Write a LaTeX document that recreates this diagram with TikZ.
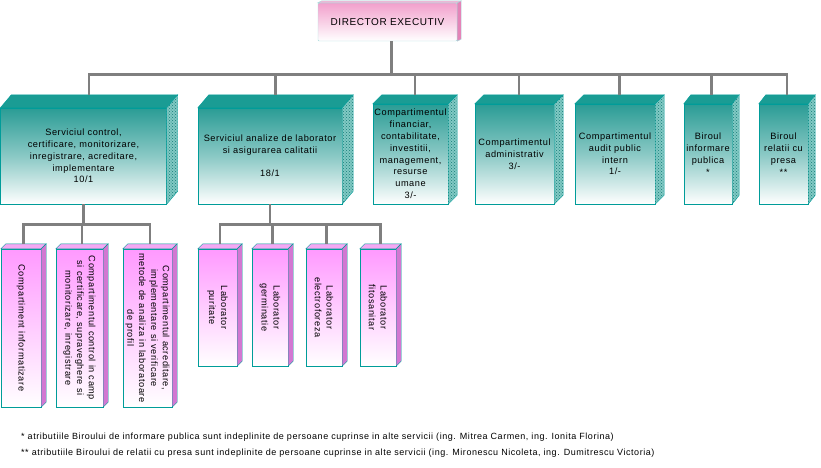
\documentclass[tikz,border=0pt]{standalone}
\usepackage{fontspec}
\setmainfont{Liberation Sans}[LetterSpace=6]
\usepackage{tikz}
\usetikzlibrary{calc, patterns}
\usepackage{xcolor}

\definecolor{tealtop}{HTML}{1A9C94}
\definecolor{tealedge}{HTML}{009C99}
\definecolor{tealfront}{HTML}{2A9C95}
\definecolor{pinkfront}{HTML}{FF99FF}
\definecolor{pinktop}{HTML}{F4A8F4}
\definecolor{pinkside}{HTML}{D277D2}
\definecolor{dirpink}{HTML}{F2A0CC}
\definecolor{dirside}{HTML}{E484B8}
\definecolor{diredge}{HTML}{A8DCDC}
\definecolor{lineg}{HTML}{7F7F7F}

\newcommand{\boxfont}{\fontsize{9.2}{11.8}\selectfont}
\newcommand{\notefont}{\fontsize{9}{11}\selectfont}

% top and right face of a box, plus the point where its line comes in
\newcommand{\faces}[5]{%
  \draw [#4] (#1.north west) -- ++(#2,-#3) -- ($(#1.north east)+(#2,-#3)$) -- (#1.north east) -- cycle;
  \draw [#5] (#1.north east) -- ++(#2,-#3) -- ($(#1.south east)+(#2,-#3)$) -- (#1.south east) -- cycle;
  \coordinate (#1-top) at ($(#1.north)+(#2/2,-#3)$);
}

\begin{document}
\begin{tikzpicture}[x=1pt, y=-1pt,
    conn/.style={draw=lineg, line width=2.6pt},
    dirbox/.style={draw=diredge, rounded corners=1pt, top color=dirpink, bottom color=white, font=\fontsize{10}{12}\selectfont},
    dirtop/.style={draw=diredge, fill=dirpink!80},
    dirside/.style={draw=diredge, fill=dirside},
    tealbox/.style={draw=tealedge, top color=tealfront, bottom color=white, middle color=tealfront!55, inner sep=1pt, align=center, font=\boxfont},
    tealtopface/.style={draw=tealedge, fill=tealtop},
    tealsideface/.style={draw=tealedge, preaction={fill=tealtop!55}, pattern=crosshatch dots, pattern color=tealtop!80!black},
    pinkbox/.style={draw=tealedge, top color=pinkfront, bottom color=white, inner sep=0pt},
    pinktopface/.style={draw=tealedge, fill=pinktop},
    pinksideface/.style={draw=tealedge, fill=pinkside},
    upright/.style={rotate=-90, align=center, font=\boxfont}]
    \useasboundingbox (0,0) rectangle (821,467);
    % Director
    \node [dirbox, minimum width=139pt, minimum height=38pt] (dir) at (387.5,22) {DIRECTOR EXECUTIV};
    \faces{dir}{4}{2}{dirtop}{dirside}
    % First row
    \node [tealbox, minimum width=166pt, minimum height=96pt] (b1) at (83.5,156)
        {Serviciul control,\\ certificare, monitorizare,\\ inregistrare, acreditare,\\ implementare\\ 10/1};
    \faces{b1}{11}{13}{tealtopface}{tealsideface}
    \node [tealbox, minimum width=144pt, minimum height=96pt] (b2) at (270,156)
        {Serviciul analize de laborator\\ si asigurarea calitatii\\[11.8pt] 18/1};
    \faces{b2}{11}{13}{tealtopface}{tealsideface}
    \node [tealbox, minimum width=75pt, minimum height=100pt] (b3) at (410.5,154)
        {Compartimentul\\ financiar,\\ contabilitate,\\ investitii,\\ management,\\ resurse\\ umane\\ 3/-};
    \faces{b3}{9}{9}{tealtopface}{tealsideface}
    \node [tealbox, minimum width=79pt, minimum height=100pt] (b4) at (514.5,154)
        {Compartimentul\\ administrativ\\ 3/-};
    \faces{b4}{9}{9}{tealtopface}{tealsideface}
    \node [tealbox, minimum width=80pt, minimum height=100pt] (b5) at (615,154)
        {Compartimentul\\ audit public\\ intern\\ 1/-};
    \faces{b5}{9}{9}{tealtopface}{tealsideface}
    \node [tealbox, minimum width=48pt, minimum height=100pt] (b6) at (708,154)
        {Biroul\\ informare\\ publica\\ *};
    \faces{b6}{7}{9}{tealtopface}{tealsideface}
    \node [tealbox, minimum width=49pt, minimum height=100pt] (b7) at (783.5,154)
        {Biroul\\ relatii cu\\ presa\\ **};
    \faces{b7}{7}{9}{tealtopface}{tealsideface}
    % Compartments under the first service
    \node [pinkbox, minimum width=40pt, minimum height=158pt] (s1) at (21,328) {};
    \faces{s1}{5}{5}{pinktopface}{pinksideface}
    \node [pinkbox, minimum width=47pt, minimum height=158pt] (s2) at (79.5,328) {};
    \faces{s2}{5}{5}{pinktopface}{pinksideface}
    \node [pinkbox, minimum width=49pt, minimum height=158pt] (s3) at (147.5,328) {};
    \faces{s3}{5}{5}{pinktopface}{pinksideface}
    \node [upright] (s1-text) at (s1) {Compartiment informatizare};
    \node [upright] (s2-text) at (s2) {Compartimentul control in camp\\ si certificare, supraveghere si\\ monitorizare, inregistrare};
    \node [upright] (s3-text) at (s3) {Compartimentul acreditare,\\ implementare si verificare\\ metode de analiza in laboratoare\\ de profil};
    % Laboratories
    \node [pinkbox, minimum width=39pt, minimum height=117pt] (l1) at (217.5,307.5) {};
    \faces{l1}{5}{5}{pinktopface}{pinksideface}
    \node [pinkbox, minimum width=36pt, minimum height=117pt] (l2) at (270,307.5) {};
    \faces{l2}{5}{5}{pinktopface}{pinksideface}
    \node [pinkbox, minimum width=36pt, minimum height=117pt] (l3) at (324,307.5) {};
    \faces{l3}{5}{5}{pinktopface}{pinksideface}
    \node [pinkbox, minimum width=36pt, minimum height=117pt] (l4) at (378,307.5) {};
    \faces{l4}{5}{5}{pinktopface}{pinksideface}
    \node [upright] (l1-text) at (l1) {Laborator\\ puritate};
    \node [upright] (l2-text) at (l2) {Laborator\\ germinatie};
    \node [upright] (l3-text) at (l3) {Laborator\\ electroforeza};
    \node [upright] (l4-text) at (l4) {Laborator\\ fitosanitar};
    % Lines
    \coordinate (bus0) at ($(dir.south)+(4,33)$);
    \coordinate (bus1) at ($(b1.south)+(0,20)$);
    \coordinate (bus2) at ($(b2.south)+(0,20)$);
    \draw [conn] ($(dir.south)+(4,0)$) -- (bus0);
    \foreach \n in {b1,b2,b3,b4,b5,b6,b7}
        \draw [conn] (bus0) -| (\n-top);
    \draw [conn] (b1.south) -- (bus1);
    \foreach \n in {s1,s2,s3}
        \draw [conn] (bus1) -| (\n-top);
    \draw [conn] (b2.south) -- (bus2);
    \foreach \n in {l1,l2,l3,l4}
        \draw [conn] (bus2) -| (\n-top);
    % Notes
    \node [anchor=west, font=\notefont, inner sep=0pt] (note1) at (21,437)
        {* atributiile Biroului de informare publica sunt indeplinite de persoane cuprinse in alte servicii (ing. Mitrea Carmen, ing. Ionita Florina)};
    \node [anchor=west, font=\notefont, inner sep=0pt] (note2) at (21,453)
        {** atributiile Biroului de relatii cu presa sunt indeplinite de persoane cuprinse in alte servicii (ing. Mironescu Nicoleta, ing. Dumitrescu Victoria)};
\end{tikzpicture}
\end{document}
